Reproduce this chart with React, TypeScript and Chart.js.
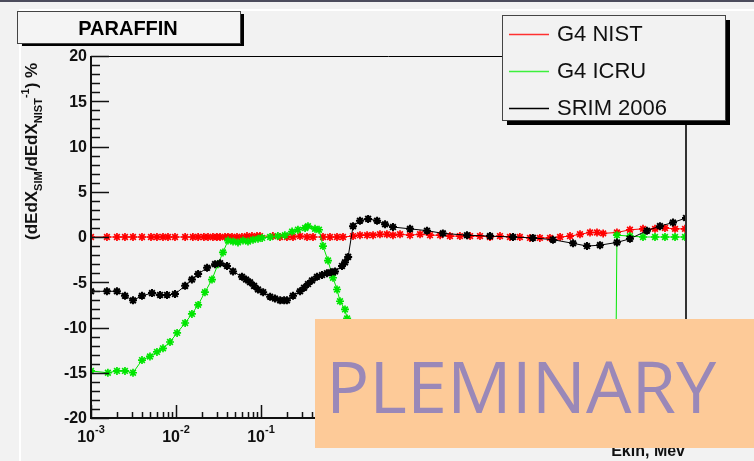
import React, { useEffect, useRef } from "react";
import { Chart, registerables } from "chart.js";
Chart.register(...registerables);

// ---- data (kinetic energy in MeV, deviation in %) ----
const nistE = [1.0e-3, 1.54e-3, 2.02e-3, 2.51e-3, 3.12e-3, 3.98e-3, 5.08e-3, 5.97e-3, 7.03e-3, 8.05e-3, 9.73e-3,
  1.28e-2, 1.58e-2, 1.82e-2, 2.13e-2, 2.38e-2, 2.72e-2, 3.03e-2, 3.3e-2, 3.77e-2, 4.09e-2, 4.56e-2, 5.22e-2, 5.97e-2,
  6.84e-2, 7.83e-2, 8.97e-2, 9.73e-2, 0.138, 0.167, 0.202, 0.238, 0.288, 0.348, 0.409, 0.536, 0.648, 0.784, 0.922,
  1.21, 1.46, 1.77, 2.08, 2.51, 3.03, 3.57, 4.32, 5.66, 7.43, 9.73, 12.8, 16.7, 21.9, 28.8, 37.7, 49.4, 64.8, 84.9,
  111, 146, 191, 251, 330, 432, 566, 743, 897, 1060, 1540, 2190, 3120, 4320, 5660, 7430, 9730];
const nistV = [0, 0, 0, 0, 0, 0, 0, 0, 0, 0, 0,
  0, 0, 0, 0, 0, 0, 0, 0, 0, 0, 0, 0, 0,
  0.1, 0.1, 0.1, 0.1, 0.1, 0, 0, 0, 0.1, 0, 0, 0, 0, 0, 0,
  0.1, 0.2, 0.2, 0.2, 0.3, 0.3, 0.2, 0.3, 0.2, 0.3, 0.2, 0.2, 0.1, 0.1, 0.1, 0.1, 0.0, 0.1, 0.0,
  0.0, -0.1, -0.1, -0.1, 0.0, 0.1, 0.3, 0.5, 0.5, 0.4, 0.5, 0.8, 0.9, 0.9, 1.0, 0.9, 0.9];

const icruE = [1.0e-3, 1.58e-3, 2.02e-3, 2.51e-3, 3.12e-3, 3.98e-3, 4.94e-3, 5.97e-3, 7.03e-3, 8.5e-3, 1.03e-2,
  1.28e-2, 1.54e-2, 1.82e-2, 2.19e-2, 2.65e-2, 3.12e-2, 3.57e-2, 4.09e-2, 4.69e-2, 5.36e-2, 6.14e-2, 7.03e-2,
  8.05e-2, 9.22e-2, 0.103, 0.128, 0.158, 0.191, 0.232, 0.272, 0.33, 0.357, 0.432, 0.481, 0.536, 0.614, 0.703,
  0.784, 0.85, 0.973, 1.03, 1.3, 1.8, 3, 10, 100, 1000, 1384, 1540, 2190, 3120, 4320, 5660, 7430, 9730];
const icruV = [-14.8, -15.0, -14.8, -14.8, -15.0, -13.6, -13.2, -12.7, -12.3, -11.6, -10.6,
  -9.5, -8.5, -7.5, -6.1, -4.7, -3.0, -1.7, -0.4, -0.5, -0.6, -0.4, -0.5,
  -0.3, -0.2, -0.1, 0.0, 0.1, 0.2, 0.6, 0.8, 1.0, 1.2, 0.9, 0.8, -1.0, -2.6, -4.5,
  -5.8, -7.1, -8.0, -9.0, -13, -20, -30, -45, -50, -50, -50, 0.2, 0.1, 0.0, 0.0, 0.0, 0.0, 0.0];

const srimE = [1.0e-3, 1.54e-3, 2.02e-3, 2.51e-3, 3.12e-3, 3.98e-3, 5.22e-3, 6.49e-3, 7.84e-3, 9.73e-3,
  1.28e-2, 1.54e-2, 1.82e-2, 2.32e-2, 2.88e-2, 3.3e-2, 3.98e-2, 4.69e-2, 5.97e-2, 6.67e-2, 7.43e-2, 8.28e-2,
  9.22e-2, 0.106, 0.128, 0.146, 0.168, 0.187, 0.202, 0.238, 0.288, 0.321, 0.357, 0.398, 0.456, 0.522, 0.597,
  0.667, 0.743, 0.898, 0.973, 1.06, 1.21, 1.46, 1.82, 2.32, 2.88,
  3.57, 5.66, 8.97, 13.8, 26.5, 49.4, 92.2, 158, 272, 469, 684, 973, 1540, 2190, 3470, 4940, 7030, 10000];
const srimV = [-6.0, -6.0, -6.0, -6.5, -7.0, -6.5, -6.2, -6.4, -6.4, -6.3,
  -5.4, -4.7, -4.1, -3.4, -3.0, -2.9, -3.2, -3.8, -4.4, -4.7, -5.0, -5.4,
  -5.8, -6.1, -6.6, -6.8, -7.0, -7.0, -7.0, -6.5, -6.0, -5.6, -5.2, -4.8, -4.4, -4.2, -4.0,
  -3.9, -3.8, -3.2, -2.8, -2.2, 1.2, 1.8, 2.0, 1.8, 1.4,
  1.1, 0.9, 0.7, 0.4, 0.2, 0.1, 0.0, -0.1, -0.3, -0.7, -1.0, -0.9, -0.6, -0.2, 0.7, 1.2, 1.6, 2.1];

const seriesNames = ["G4 NIST", "G4 ICRU", "SRIM 2006"];
const seriesColors = ["#ff0000", "#00e600", "#000000"];
const legendColors = ["#ff3030", "#3cf03c", "#000000"];
const xTickExps = [-3, -2, -1, 0, 1, 2, 3, 4];
const yMajorTicks = [20, 15, 10, 5, 0, -5, -10, -15, -20];
const titleText = "PARAFFIN";
const xTitle = "Ekin, Mev";
const watermark = "PLEMINARY";

const W = 754;
const H = 461;
const FONT = "'Liberation Sans', Arial, sans-serif";

const decor = {
  id: "decor",
  beforeDraw(chart: any) {
    const ctx = chart.ctx;
    ctx.save();
    ctx.fillStyle = "#f2f2f2";
    ctx.fillRect(0, 0, W, H);
    ctx.fillStyle = "#4c4c5c";
    ctx.fillRect(0, 0, W, 2);
    ctx.fillStyle = "#ffffff";
    ctx.fillRect(19, 9, W - 19, 2);
    ctx.fillRect(19, 9, 2, H - 9);
    ctx.restore();
  },
  afterDraw(chart: any) {
    const ctx = chart.ctx;
    const { left, right, top, bottom } = chart.chartArea;
    const xs = chart.scales.x;
    const ys = chart.scales.y;
    ctx.save();
    // frame
    ctx.strokeStyle = "#000";
    ctx.lineWidth = 1;
    ctx.beginPath();
    ctx.moveTo(left, top + 0.5);
    ctx.lineTo(right, top + 0.5);
    ctx.stroke();
    ctx.strokeStyle = "#333";
    ctx.lineWidth = 2;
    ctx.beginPath();
    ctx.moveTo(right, top);
    ctx.lineTo(right, bottom);
    ctx.stroke();
    ctx.strokeStyle = "#111";
    ctx.lineWidth = 2;
    ctx.beginPath();
    ctx.moveTo(left, top);
    ctx.lineTo(left, bottom + 1);
    ctx.moveTo(left, bottom);
    ctx.lineTo(right, bottom);
    ctx.stroke();

    // y ticks
    ctx.strokeStyle = "#111";
    ctx.lineWidth = 1.5;
    ctx.beginPath();
    for (let v = -20; v <= 20; v++) {
      const py = Math.round(ys.getPixelForValue(v)) + 0.5;
      const len = v % 5 === 0 ? 18 : 9;
      ctx.moveTo(left, py);
      ctx.lineTo(left + len, py);
    }
    ctx.stroke();
    ctx.fillStyle = "#111";
    ctx.font = `bold 16px ${FONT}`;
    ctx.textAlign = "right";
    ctx.textBaseline = "middle";
    yMajorTicks.forEach((v) => {
      ctx.fillText(String(v), left - 4, ys.getPixelForValue(v) + 1);
    });

    // x ticks
    ctx.beginPath();
    for (let e = -3; e < 4; e++) {
      for (let m = 1; m < 10; m++) {
        const px = Math.round(xs.getPixelForValue(m * Math.pow(10, e))) + 0.5;
        const len = m === 1 ? 13 : 6;
        ctx.moveTo(px, bottom);
        ctx.lineTo(px, bottom - len);
      }
    }
    ctx.stroke();
    xTickExps.forEach((e) => {
      const px = xs.getPixelForValue(Math.pow(10, e));
      ctx.font = `bold 16px ${FONT}`;
      const bw = ctx.measureText("10").width;
      ctx.font = `bold 11px ${FONT}`;
      const sw = ctx.measureText(String(e)).width;
      const x0 = px - (bw + sw) / 2;
      ctx.textAlign = "left";
      ctx.textBaseline = "alphabetic";
      ctx.font = `bold 16px ${FONT}`;
      ctx.fillText("10", x0, bottom + 24);
      ctx.font = `bold 11px ${FONT}`;
      ctx.fillText(String(e), x0 + bw, bottom + 15);
    });

    // x title
    ctx.font = `bold 16px ${FONT}`;
    ctx.textAlign = "right";
    ctx.textBaseline = "alphabetic";
    ctx.fillText(xTitle, right - 1, 456);

    // y title (rotated)
    ctx.save();
    ctx.translate(37, 240);
    ctx.rotate(-Math.PI / 2);
    const parts: [string, number, number][] = [
      ["(dEdX", 17, 0], ["SIM", 11, 5], ["/dEdX", 17, 0], ["NIST", 11, 5], ["-1", 11, -8], [") %", 17, 0],
    ];
    let cx = 0;
    ctx.textAlign = "left";
    ctx.textBaseline = "alphabetic";
    parts.forEach(([t, s, dy]) => {
      ctx.font = `bold ${s}px ${FONT}`;
      ctx.fillText(t, cx, dy);
      cx += ctx.measureText(t).width;
    });
    ctx.restore();

    // title box
    ctx.fillStyle = "#000";
    ctx.fillRect(22, 43, 222, 3);
    ctx.fillRect(241, 14, 3, 32);
    ctx.fillStyle = "#f4f4f4";
    ctx.fillRect(17, 11, 224, 32);
    ctx.strokeStyle = "#444";
    ctx.lineWidth = 1;
    ctx.strokeRect(17.5, 11.5, 223, 32);
    ctx.fillStyle = "#000";
    ctx.font = `bold 20px ${FONT}`;
    ctx.textAlign = "center";
    ctx.textBaseline = "middle";
    ctx.fillText(titleText, 128, 29);

    // legend
    ctx.fillStyle = "#000";
    ctx.fillRect(507, 121, 223, 4);
    ctx.fillRect(726, 20, 4, 105);
    ctx.fillStyle = "#f2f2f2";
    ctx.fillRect(502, 15, 224, 106);
    ctx.strokeStyle = "#444";
    ctx.lineWidth = 1;
    ctx.strokeRect(502.5, 15.5, 223, 105);
    seriesNames.forEach((n, i) => {
      const ly = 34 + i * 37;
      ctx.strokeStyle = legendColors[i];
      ctx.lineWidth = 1.3;
      ctx.beginPath();
      ctx.moveTo(509, ly + 0.5);
      ctx.lineTo(549, ly + 0.5);
      ctx.stroke();
      ctx.fillStyle = "#111";
      ctx.font = `22px ${FONT}`;
      ctx.textAlign = "left";
      ctx.textBaseline = "middle";
      ctx.fillText(n, 557, ly + 1);
    });

    // watermark overlay
    ctx.fillStyle = "#fdca98";
    ctx.fillRect(315, 319, W - 315, 129);
    ctx.fillStyle = "#9a88b8";
    ctx.font = `72px 'Open Sans', 'DejaVu Sans', sans-serif`;
    ctx.textAlign = "left";
    ctx.textBaseline = "alphabetic";
    ctx.fillText(watermark, 326, 413);
    ctx.restore();
  },
};

export default function App() {
  const ref = useRef<HTMLCanvasElement | null>(null);
  useEffect(() => {
    if (!ref.current) return;
    const mk = (E: number[], V: number[]) => E.map((e, i) => ({ x: e, y: V[i] }));
    const chart = new Chart(ref.current, {
      type: "scatter",
      data: {
        datasets: [
          { label: seriesNames[2], data: mk(srimE, srimV), order: 0 },
          { label: seriesNames[1], data: mk(icruE, icruV), order: 1 },
          { label: seriesNames[0], data: mk(nistE, nistV), order: 2 },
        ].map((d, k) => {
          const ci = 2 - k;
          return {
            ...d,
            showLine: true,
            borderColor: seriesColors[ci],
            backgroundColor: seriesColors[ci],
            borderWidth: 1,
            pointStyle: "star",
            pointRadius: 4,
            pointBorderWidth: ci === 2 ? 2 : 1.7,
            pointBorderColor: seriesColors[ci],
            tension: 0,
          } as any;
        }),
      },
      options: {
        responsive: false,
        animation: false,
        devicePixelRatio: 1,
        layout: { padding: { left: 91, right: W - 686, top: 56, bottom: H - 418 } },
        plugins: { legend: { display: false }, tooltip: { enabled: false } },
        scales: {
          x: { type: "logarithmic", min: 1e-3, max: 1e4, display: false },
          y: { type: "linear", min: -20, max: 20, display: false },
        },
      },
      plugins: [decor],
    });
    return () => chart.destroy();
  }, []);
  return (
    <div style={{ position: "fixed", left: 0, top: 0, width: W, height: H }}>
      <canvas ref={ref} width={W} height={H} style={{ display: "block", width: W, height: H }} />
    </div>
  );
}
